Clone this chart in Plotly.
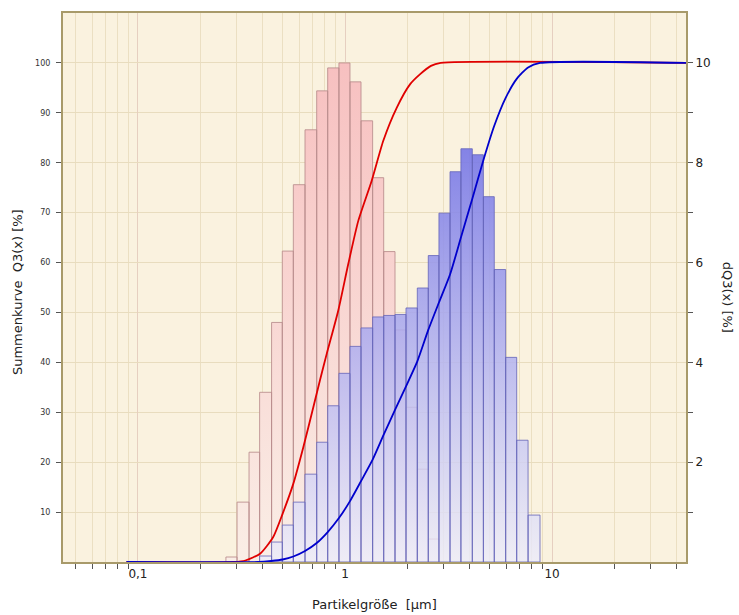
import plotly.graph_objects as go

# ---------------- data ----------------
# particle size class boundaries [µm]
class_edges = [0.266, 0.301, 0.344, 0.387, 0.442, 0.498, 0.563, 0.641, 0.730, 0.825,
               0.935, 1.057, 1.195, 1.36, 1.538, 1.744, 1.971, 2.235, 2.525, 2.843,
               3.216, 3.63, 4.12, 4.66, 5.26, 5.97, 6.75, 7.66, 8.75]
# dQ3(x) [%] per class - sample 1 (red / pink)
dq3_red = [0.1, 1.2, 2.2, 3.4, 4.8, 6.23, 7.56, 8.66, 9.44, 9.9,
           10.0, 9.62, 8.84, 7.7, 6.22, 4.65, 3.1, 1.86, 0.46, 0,
           0, 0, 0, 0, 0, 0, 0, 0]
# dQ3(x) [%] per class - sample 2 (blue)
dq3_blue = [0, 0, 0, 0.12, 0.4, 0.74, 1.2, 1.76, 2.4, 3.13,
            3.78, 4.32, 4.69, 4.91, 4.94, 4.96, 5.09, 5.49, 6.14, 6.99,
            7.82, 8.28, 8.16, 7.32, 5.86, 4.1, 2.44, 0.94]

# cumulative curves Q3(x) [%]
q3_red_x = [0.088, 0.29, 0.33, 0.39, 0.45, 0.50, 0.563, 0.629, 0.703, 0.757, 0.816,
            0.928, 1.037, 1.16, 1.346, 1.531, 1.777, 2.06, 2.30, 2.6, 2.9, 44.4]
q3_red_y = [0, 0, 0.3, 1.7, 5.0, 9.7, 15.7, 23, 31, 36.4, 41.7,
            50.4, 59.7, 68.4, 76.4, 84.4, 91, 95.7, 97.7, 99.4, 100, 100]
q3_blue_x = [0.088, 0.38, 0.44, 0.50, 0.563, 0.641, 0.73, 0.825, 0.935, 1.057, 1.195,
             1.36, 1.538, 1.744, 1.971, 2.235, 2.525, 2.843, 3.216, 3.63, 4.12,
             4.66, 5.26, 5.97, 6.75, 7.66, 8.75, 44.4]
q3_blue_y = [0, 0, 0.2, 0.5, 1.1, 2.2, 3.8, 6.0, 8.8, 12.2, 16.2,
             20.5, 25.5, 30.5, 35.2, 40.2, 46.5, 52, 57.6, 65, 72.8,
             80.5, 87.4, 93, 96.8, 99.1, 100, 100]

x_tick_vals = [0.1, 1, 10]
x_tick_text = ["0,1", "1", "10"]
left_tick_vals = [10, 20, 30, 40, 50, 60, 70, 80, 90, 100]
right_tick_vals = [2, 4, 6, 8, 10]
right_minor_vals = [1, 3, 5, 7, 9]

FONT = "DejaVu Sans"


def bar_polygons(edges, heights):
    xs, ys = [], []
    for i, h in enumerate(heights):
        if h <= 0:
            continue
        x0, x1 = edges[i], edges[i + 1]
        xs += [x0, x0, x1, x1, x0, None]
        ys += [0, h, h, 0, 0, None]
    return xs, ys


fig = go.Figure()

# histogram bars (dQ3, right axis = primary y)
px, py = bar_polygons(class_edges, dq3_red)
fig.add_trace(go.Scatter(
    x=px, y=py, yaxis="y", mode="lines", fill="toself",
    line=dict(color="rgba(185,140,140,0.85)", width=1),
    fillgradient=dict(type="vertical", start=0, stop=10,
                      colorscale=[[0, "rgb(250,238,230)"], [1, "rgb(247,192,192)"]]),
    showlegend=False, hoverinfo="skip"))

bx, by = bar_polygons(class_edges, dq3_blue)
fig.add_trace(go.Scatter(
    x=bx, y=by, yaxis="y", mode="lines", fill="toself",
    line=dict(color="rgba(100,100,185,0.8)", width=1),
    fillgradient=dict(type="vertical", start=0, stop=8.5,
                      colorscale=[[0, "rgba(236,236,250,0.8)"], [1, "rgba(115,115,230,0.9)"]]),
    showlegend=False, hoverinfo="skip"))

# cumulative curves (Q3, left axis = overlaying y2)
fig.add_trace(go.Scatter(x=q3_red_x, y=q3_red_y, yaxis="y2", mode="lines",
                         line=dict(color="#e00000", width=1.8, shape="spline", smoothing=0.6),
                         showlegend=False))
fig.add_trace(go.Scatter(x=q3_blue_x, y=q3_blue_y, yaxis="y2", mode="lines",
                         line=dict(color="#0000cc", width=1.8, shape="spline", smoothing=0.6),
                         showlegend=False))

minor_vals = [m * d for d in (0.01, 0.1, 1, 10) for m in range(2, 10)]

AX = "#a89a6a"
fig.update_layout(
    width=739, height=615,
    margin=dict(l=63, r=53, t=13, b=53),
    paper_bgcolor="white",
    plot_bgcolor="#faf2df",
    font=dict(family=FONT, color="#222"),
    xaxis=dict(
        type="log", range=[-1.362, 1.647],
        tickvals=x_tick_vals, ticktext=x_tick_text, ticks="",
        tickfont=dict(size=12, color="#222"),
        showgrid=True, gridcolor="#e6cfc0", gridwidth=1,
        minor=dict(tickvals=minor_vals, ticks="outside", ticklen=5, tickcolor="#555",
                   showgrid=True, gridcolor="#ebdfc2", gridwidth=1),
        showline=True, linecolor=AX, linewidth=2, mirror=True,
        zeroline=False, fixedrange=True,
    ),
    yaxis=dict(
        range=[0, 11], side="right",
        tickvals=right_tick_vals, ticks="outside", ticklen=5, tickcolor="#555",
        tickfont=dict(size=12, color="#222"),
        showgrid=True, gridcolor="#e8dcbe", gridwidth=1,
        minor=dict(tickvals=right_minor_vals, ticks="outside", ticklen=5, tickcolor="#555",
                   showgrid=True, gridcolor="#e8dcbe", gridwidth=1),
        showline=True, linecolor=AX, linewidth=2,
        zeroline=False,
    ),
    yaxis2=dict(
        range=[0, 110], overlaying="y", side="left",
        tickvals=left_tick_vals, ticks="outside", ticklen=5,
        tickcolor="#555", tickfont=dict(size=8, color="#333"),
        showgrid=False, showline=True, linecolor=AX, linewidth=2,
        zeroline=False, ticklabelstandoff=4,
    ),
    annotations=[
        dict(text="Partikelgröße  [µm]", xref="paper", yref="paper", x=0.5, y=-0.078,
             xanchor="center", yanchor="middle", showarrow=False,
             font=dict(size=13, color="#222")),
        dict(text="Summenkurve  Q3(x) [%]", xref="paper", yref="paper", x=-0.072, y=0.492,
             xanchor="center", yanchor="middle", textangle=-90, showarrow=False,
             font=dict(size=13, color="#222")),
        dict(text="dQ3(x) [%]", xref="paper", yref="paper", x=1.066, y=0.483,
             xanchor="center", yanchor="middle", textangle=90, showarrow=False,
             font=dict(size=13, color="#222")),
    ],
)

fig.write_html("out.html", config={"displayModeBar": False},
               post_script="document.body.style.margin='0';")
